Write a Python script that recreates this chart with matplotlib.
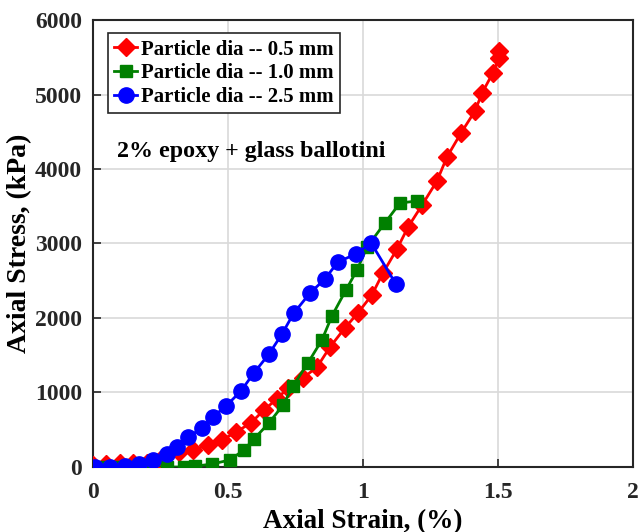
import matplotlib.pyplot as plt
import numpy as np

plt.rcParams['font.family'] = ['Liberation Serif', 'DejaVu Serif']
plt.rcParams['font.weight'] = 'bold'

# 0.5 mm particles
strain_05 = [0.0, 0.05, 0.10, 0.15, 0.20, 0.25, 0.32, 0.37, 0.426, 0.478, 0.53, 0.585,
             0.633, 0.681, 0.722, 0.778, 0.83, 0.878, 0.933, 0.981, 1.033, 1.074,
             1.126, 1.167, 1.219, 1.274, 1.311, 1.363, 1.415, 1.441, 1.481, 1.504, 1.504]
stress_05 = [30, 40, 50, 54, 60, 94, 201, 228, 295, 362, 470, 591,
             765, 913, 1060, 1195, 1342, 1611, 1866, 2067, 2309, 2604,
             2926, 3221, 3517, 3839, 4161, 4483, 4779, 5020, 5289, 5490, 5584]

# 1.0 mm particles
strain_10 = [0.0, 0.05, 0.10, 0.15, 0.20, 0.274, 0.337, 0.378, 0.441, 0.507, 0.559,
             0.596, 0.652, 0.704, 0.741, 0.796, 0.848, 0.885, 0.937, 0.978, 1.015,
             1.081, 1.137, 1.20]
stress_10 = [0, 0, 0, 0, 0, 0, 0, 10, 40, 94, 228,
             376, 591, 832, 1087, 1396, 1705, 2027, 2376, 2644, 2953,
             3275, 3544, 3570]

# 2.5 mm particles
strain_25 = [0.007, 0.063, 0.119, 0.170, 0.222, 0.274, 0.311, 0.352, 0.404, 0.444,
             0.493, 0.548, 0.596, 0.652, 0.700, 0.744, 0.804, 0.859, 0.907, 0.974,
             1.030, 1.122]
stress_25 = [0, 0, 13, 40, 94, 174, 268, 403, 523, 671,
             819, 1020, 1262, 1517, 1785, 2067, 2336, 2523, 2752, 2859,
             3007, 2456]

fig = plt.figure(figsize=(6.39, 5.32), dpi=100)
ax = fig.add_axes([0.1455, 0.1222, 0.8451, 0.8402])

ax.plot(strain_05, stress_05, color='red', marker='D', markersize=9, lw=2,
        label='Particle dia -- 0.5 mm', zorder=3)
ax.plot(strain_10, stress_10, color='green', marker='s', markersize=8, lw=2,
        label='Particle dia -- 1.0 mm', zorder=3)
ax.plot(strain_25, stress_25, color='blue', marker='o', markersize=11, lw=2,
        label='Particle dia -- 2.5 mm', zorder=4)

ax.set_xlim(0, 2)
ax.set_ylim(0, 6000)
ax.set_xticks(np.arange(0, 2.01, 0.5))
ax.set_xticklabels(['0', '0.5', '1', '1.5', '2'])
ax.set_yticks(np.arange(0, 6001, 1000))
ax.grid(True, color='#d9d9d9', lw=1.2)
ax.set_axisbelow(True)
ax.tick_params(direction='in', labelsize=17, colors='#262626', width=1.2, length=6)
ax.tick_params(axis='x', pad=11)
ax.tick_params(axis='y', pad=8)
for s in ax.spines.values():
    s.set_linewidth(1.5)
    s.set_color('#262626')

ax.set_xlabel('Axial Strain, (%)', fontsize=19.5, fontweight='bold', labelpad=4)
ax.set_ylabel('Axial Stress, (kPa)', fontsize=20, fontweight='bold', labelpad=2)

leg = ax.legend(loc='upper left', bbox_to_anchor=(0.028, 0.97),
                prop={'weight': 'bold', 'size': 15}, frameon=True, fancybox=False,
                handlelength=1.1, handletextpad=0.2, borderpad=0.3,
                labelspacing=0.18, borderaxespad=0)
leg.get_frame().set_edgecolor('#262626')
leg.get_frame().set_linewidth(1.2)
leg.get_frame().set_alpha(1)

ax.text(0.045, 0.705, '2% epoxy + glass ballotini', transform=ax.transAxes,
        fontsize=17.3, fontweight='bold', color='black', va='center')

fig.savefig('out.png', dpi=100)
